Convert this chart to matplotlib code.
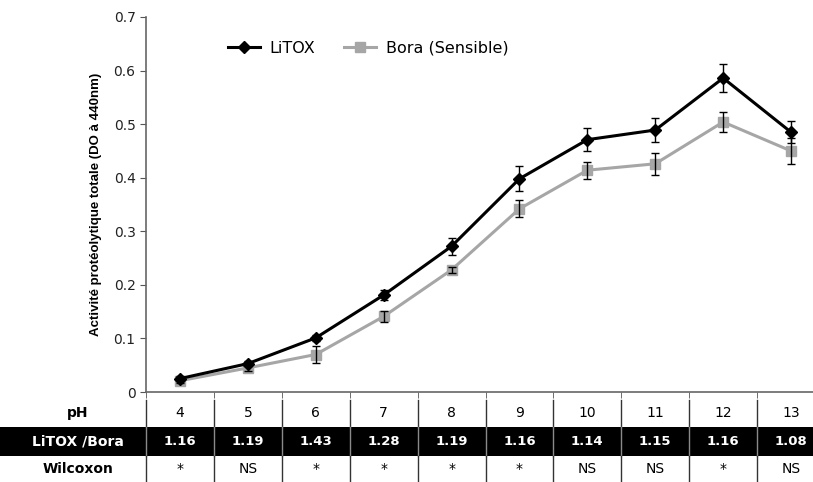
import matplotlib
matplotlib.use("Agg")
import matplotlib.pyplot as plt
import matplotlib.transforms as mtransforms
from matplotlib.patches import Rectangle
import numpy as np

# données
ph = ["4", "5", "6", "7", "8", "9", "10", "11", "12", "13"]
litox = [0.025, 0.053, 0.101, 0.181, 0.272, 0.398, 0.471, 0.489, 0.586, 0.485]
litox_err = [0.005, 0.005, 0.006, 0.010, 0.016, 0.023, 0.022, 0.022, 0.026, 0.020]
bora = [0.021, 0.045, 0.070, 0.141, 0.228, 0.342, 0.414, 0.426, 0.504, 0.450]
bora_err = [0.005, 0.005, 0.015, 0.010, 0.005, 0.016, 0.016, 0.021, 0.019, 0.025]
ratio = ["1.16", "1.19", "1.43", "1.28", "1.19", "1.16", "1.14", "1.15", "1.16", "1.08"]
wilcoxon = ["*", "NS", "*", "*", "*", "*", "NS", "NS", "*", "NS"]

x = np.arange(len(ph))
GRAY = "#A6A6A6"

fig = plt.figure(figsize=(8.13, 4.82), dpi=100)
ax = fig.add_axes([146 / 813, 1 - 392 / 482, 679 / 813, 375 / 482])

# barres d'erreur puis courbes
ax.errorbar(x, litox, yerr=litox_err, fmt="none", ecolor="black",
            elinewidth=1, capsize=3, capthick=1, zorder=4)
ax.errorbar(x, bora, yerr=bora_err, fmt="none", ecolor="black",
            elinewidth=1, capsize=3, capthick=1, zorder=4)
ax.plot(x, bora, color=GRAY, lw=2.2, marker="s", ms=7,
        label="Bora (Sensible)", zorder=2)
ax.plot(x, litox, color="black", lw=2.2, marker="D", ms=6,
        label="LiTOX", zorder=3)

ax.set_xlim(-0.5, len(ph) - 0.5)
ax.set_ylim(0, 0.7)
ax.set_yticks(np.arange(0, 0.71, 0.1))
ax.set_yticklabels(["0"] + [f"{v:.1f}" for v in np.arange(0.1, 0.71, 0.1)],
                   fontsize=10, color="#222222")
ax.set_xticks(x)
ax.set_xticklabels([])
ax.tick_params(axis="x", length=0)
ax.set_xticks(np.arange(-0.5, len(ph), 1.0), minor=True)
ax.tick_params(axis="x", which="minor", length=4, color="#555555")
ax.tick_params(axis="y", length=4, color="#555555", direction="out")
for s in ["top", "right"]:
    ax.spines[s].set_visible(False)
for s in ["left", "bottom"]:
    ax.spines[s].set_color("#666666")
    ax.spines[s].set_linewidth(1.2)

ax.set_ylabel("Activité protéolytique totale (DO à 440nm)", fontsize=9.5,
              fontweight="bold", family="Liberation Sans", labelpad=8)

h, l = ax.get_legend_handles_labels()
ax.legend(h[::-1], l[::-1], loc="center left", bbox_to_anchor=(0.1, 0.917),
          ncol=2, frameon=False, fontsize=11.5, handlelength=2.0,
          columnspacing=1.8, handletextpad=0.6)

# tableau sous l'axe
tr = mtransforms.blended_transform_factory(ax.transData, ax.transAxes)
trf = mtransforms.blended_transform_factory(fig.transFigure, ax.transAxes)
y_ph, y_ratio, y_wil = -0.057, -0.131, -0.206
band_lo, band_hi = -0.170, -0.093

ax.add_patch(Rectangle((0, band_lo), 1, band_hi - band_lo, transform=trf,
                       facecolor="black", edgecolor="none", clip_on=False,
                       zorder=0.5))
for b in np.arange(-0.5, len(ph), 1.0):
    ax.plot([b, b], [-0.02, band_hi], transform=tr, color="#333333",
            lw=1, clip_on=False)
    ax.plot([b, b], [band_hi, band_lo], transform=tr, color="#8a8a8a",
            lw=1, clip_on=False)
    ax.plot([b, b], [band_lo, -0.25], transform=tr, color="#333333",
            lw=1, clip_on=False)

ax.text(-1.5, y_ph, "pH", transform=tr, ha="center", va="center",
        fontsize=10, fontweight="bold")
ax.text(-1.5, y_ratio, "LiTOX /Bora", transform=tr, ha="center",
        va="center", fontsize=10, fontweight="bold", color="white", zorder=5)
ax.text(-1.5, y_wil, "Wilcoxon", transform=tr, ha="center", va="center",
        fontsize=10, fontweight="bold")
for i in range(len(ph)):
    ax.text(x[i], y_ph, ph[i], transform=tr, ha="center", va="center",
            fontsize=10)
    ax.text(x[i], y_ratio, ratio[i], transform=tr, ha="center",
            va="center", fontsize=9.5, fontweight="bold", color="white",
            zorder=5)
    ax.text(x[i], y_wil, wilcoxon[i], transform=tr, ha="center",
            va="center", fontsize=10)

fig.savefig("out.png", dpi=100)
